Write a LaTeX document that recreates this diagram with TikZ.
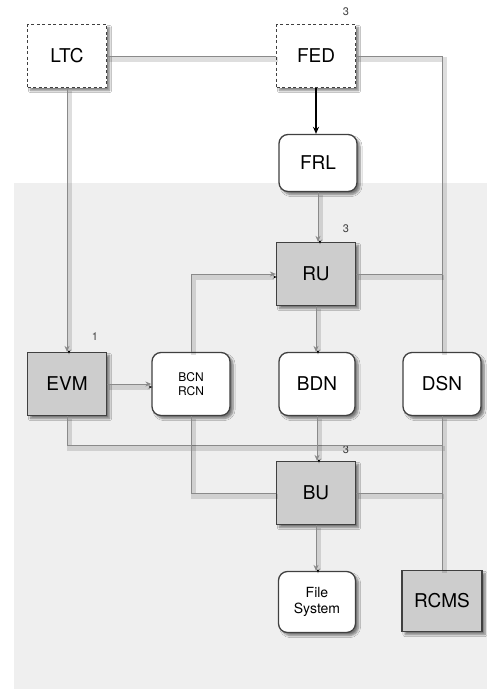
\documentclass[tikz,border=0pt]{standalone}
\usepackage{fontspec}
\setmainfont{TeX Gyre Heros}
\usetikzlibrary{arrows.meta,shadows.blur}
\definecolor{bgc}{HTML}{EFEFEF}
\definecolor{nodefill}{HTML}{CDCDCD}
\definecolor{linec}{HTML}{8A8A8A}
\definecolor{borderc}{HTML}{404040}
\tikzset{
  box/.style={draw=borderc, line width=1.3pt, minimum width=79pt, minimum height=63pt,
    inner sep=0pt, align=center, font=\fontsize{19}{21}\selectfont,
    blur shadow={shadow xshift=3pt, shadow yshift=-3pt, shadow blur steps=6, shadow opacity=50}},
  graybox/.style={box, fill=nodefill},
  roundbox/.style={box, fill=white, rounded corners=9pt},
  dashbox/.style={box, fill=white, dashed, dash pattern=on 3pt off 2.5pt},
  conn/.style={draw=linec, line width=1pt,
    preaction={draw=black, draw opacity=0.13, line width=5pt, transform canvas={xshift=2pt,yshift=-3pt}}},
  arr/.style={conn, -{Stealth[length=6pt,width=5pt]}},
  darr/.style={draw=black, line width=1.3pt, -{Stealth[length=7pt,width=6pt]}},
  num/.style={font=\fontsize{11}{12}\selectfont, text=borderc, inner sep=0pt}
}
\begin{document}
\begin{tikzpicture}[x=1pt,y=-1pt]
\useasboundingbox (0,0) rectangle (487,689);
\fill[white] (0,0) rectangle (487,689);
\fill[bgc] (14,183) rectangle (487,689);

% nodes
\node[dashbox] (LTC) at (67,56) {LTC};
\node[dashbox] (FED) at (316,56) {FED};
\node[roundbox, minimum width=78pt, minimum height=57pt] (FRL) at (318,163) {FRL};
\node[graybox] (RU) at (316,274) {RU};
\node[graybox] (EVM) at (67,384) {EVM};
\node[roundbox, minimum width=78pt, font=\fontsize{12}{14}\selectfont] (BCN) at (191,384) {BCN\\RCN};
\node[roundbox, minimum width=76pt] (BDN) at (317,384) {BDN};
\node[roundbox, minimum width=78pt] (DSN) at (442,384) {DSN};
\node[graybox] (BU) at (316,493) {BU};
\node[roundbox, minimum width=77pt, minimum height=61pt, font=\fontsize{14}{16}\selectfont] (FS) at (317,602) {File\\System};
\node[graybox, minimum width=80pt, minimum height=61pt] (RCMS) at (442,601) {RCMS};

% multiplicity labels
\node[num] (nFED) at (346,12) {3};
\node[num] (nRU) at (346,229) {3};
\node[num] (nEVM) at (95,337) {1};
\node[num] (nBU) at (346,450) {3};

% junction coordinate
\coordinate (busR) at (443,445);

% connectors
\draw[conn] (LTC.east) -- (FED.west);
\draw[conn] (FED.east) -| (DSN.north);
\draw[conn] (RU.east) -- (RU.east -| DSN.north);
\draw[arr] (LTC.south) -- (EVM.north);
\draw[arr] (EVM.east) -- (BCN.west);
\draw[arr] (BCN.north) |- (RU.west);
\draw[arr] (FRL.south) -- (RU.north -| FRL.south);
\draw[arr] (RU.south) -- (BDN.north -| RU.south);
\draw[conn] (EVM.south) |- (busR);
\draw[arr] (BDN.south) -- (BU.north -| BDN.south);
\draw[conn] (BCN.south) |- (BU.west);
\draw[conn] (BU.east) -- (BU.east -| DSN.south);
\draw[conn] (DSN.south) -- (RCMS.north -| DSN.south);
\draw[arr] (BU.south) -- (FS.north -| BU.south);
\draw[darr] (FED.south) -- (FRL.north -| FED.south);
\end{tikzpicture}
\end{document}
